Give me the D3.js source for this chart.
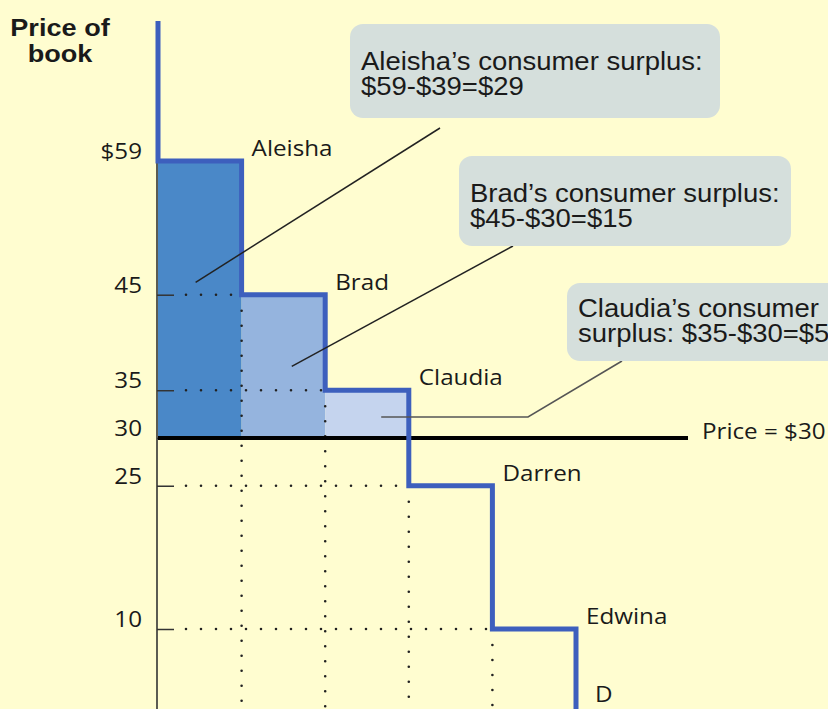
<!DOCTYPE html>
<html>
<head>
<meta charset="utf-8">
<script src="https://cdn.jsdelivr.net/npm/d3@7"></script>
<style>
  body { margin: 0; background: #fffdd0; }
  svg { display: block; }
</style>
</head>
<body>
<script>
// 数据
const buyers = ['Aleisha', 'Brad', 'Claudia', 'Darren', 'Edwina'];
const willingness = [59, 45, 35, 25, 10];
const marketPrice = 30;
const tickValues = [59, 45, 35, 30, 25, 10];
const tickLabels = ['$59', '45', '35', '30', '25', '10'];
const surplusNotes = [
  ['Aleisha\u2019s consumer surplus:', '$59-$39=$29'],
  ['Brad\u2019s consumer surplus:', '$45-$30=$15'],
  ['Claudia\u2019s consumer', 'surplus: $35-$30=$5']
];
const fills = ['#4a88c8', '#95b4de', '#c5d4ee'];

const width = 828, height = 709;
const labelFont = '"Open Sans", sans-serif';
const noteFont = '"Liberation Sans", Arial, sans-serif';

// 比例尺
const x = d3.scaleLinear().domain([0, 5]).range([158, 576]);
const y = d3.scaleLinear().domain([10, 59]).range([629, 161]);
const yTop = y.invert(21), yBottom = y.invert(height + 10);
const priceEnd = x.invert(688);

const svg = d3.select('body').append('svg')
  .attr('width', width)
  .attr('height', height);

svg.append('rect')
  .attr('width', width).attr('height', height)
  .attr('fill', '#fffdd0');

// 横向拉伸的文字
function addText(px, py, str, opt) {
  opt = opt || {};
  return svg.append('text')
    .attr('transform', `translate(${px},${py}) scale(${opt.sx || 1.1},1)`)
    .attr('font-family', opt.font || labelFont)
    .attr('font-size', opt.size || 22)
    .attr('font-weight', opt.weight || 'normal')
    .attr('text-anchor', opt.anchor || 'start')
    .attr('fill', '#1a1a1a')
    .text(str);
}

// 消费者剩余区域
const surplusIdx = willingness.map((w, i) => i).filter(i => willingness[i] > marketPrice);
svg.append('g').selectAll('rect')
  .data(surplusIdx)
  .enter()
  .append('rect')
  .attr('x', i => x(i))
  .attr('y', i => y(willingness[i]))
  .attr('width', i => x(i + 1) - x(i))
  .attr('height', i => y(marketPrice) - y(willingness[i]))
  .attr('fill', i => fills[i]);

// 点线
const dots = svg.append('g')
  .attr('stroke', '#222')
  .attr('stroke-width', 2.6)
  .attr('stroke-linecap', 'round')
  .attr('stroke-dasharray', '0 15');

dots.selectAll('.hdot')
  .data(d3.range(1, willingness.length))
  .enter()
  .append('line')
  .attr('x1', x(0) + 28)
  .attr('x2', i => x(i) - 2)
  .attr('y1', i => y(willingness[i]))
  .attr('y2', i => y(willingness[i]));

dots.selectAll('.vdot')
  .data(d3.range(1, willingness.length))
  .enter()
  .append('line')
  .attr('x1', i => x(i))
  .attr('x2', i => x(i))
  .attr('y1', i => y(willingness[i]) + 16)
  .attr('y2', height + 10);

// 坐标轴
const yAxis = d3.axisLeft(y)
  .tickValues(tickValues)
  .tickFormat((d, i) => tickLabels[i])
  .tickSize(-17)
  .tickSizeOuter(0)
  .tickPadding(14);

const axisG = svg.append('g')
  .attr('transform', `translate(${x(0) - 1},0)`)
  .call(yAxis);
axisG.select('.domain').remove();
axisG.selectAll('.tick line').attr('stroke', '#333').attr('stroke-width', 1.5);
axisG.selectAll('.tick text').remove();
axisG.append('line')
  .attr('y1', y(yTop)).attr('y2', y(yBottom))
  .attr('stroke', '#333').attr('stroke-width', 1.6);

tickValues.forEach((v, i) => {
  addText(x(0) - 16, y(v) - 2, tickLabels[i], { anchor: 'end' });
});

// 价格线
svg.append('line')
  .attr('x1', x(0)).attr('x2', x(priceEnd))
  .attr('y1', y(marketPrice)).attr('y2', y(marketPrice))
  .attr('stroke', '#000').attr('stroke-width', 4);

addText(x(priceEnd) + 14, y(marketPrice) + 1, 'Price = $' + marketPrice);

// 需求曲线（阶梯）
const pts = [[0, yTop]];
willingness.forEach((w, i) => { pts.push([i, w]); pts.push([i + 1, w]); });
pts.push([willingness.length, yBottom]);

svg.append('path')
  .datum(pts)
  .attr('fill', 'none')
  .attr('stroke', '#3d5fbd')
  .attr('stroke-width', 5)
  .attr('d', d3.line().x(d => x(d[0])).y(d => y(d[1])));

// 买家标签
buyers.forEach((b, i) => {
  addText(x(i + 1) + 10, y(willingness[i]) - 5, b);
});
addText(x(5) + 19, 702, 'D');

// 纵轴标题
addText(60, 36, 'Price of', { font: noteFont, weight: 'bold', size: 24, anchor: 'middle', sx: 1.13 });
addText(60, 62, 'book', { font: noteFont, weight: 'bold', size: 24, anchor: 'middle', sx: 1.13 });

// 注释框和引线
const boxes = [
  { bx: 350, by: 24, bw: 370, bh: 94, lx: 440, ly: 128, at: [0.45, 46.3] },
  { bx: 459, by: 156, bw: 332, bh: 90, lx: 513, ly: 246, at: [1.6, 37.5] },
  { bx: 567, by: 283, bw: 280, bh: 78, lx: 622, ly: 361, at: [2.67, 32.2], elbow: 528 }
];

boxes.forEach((b, i) => {
  const p = [[b.lx, b.ly]];
  if (b.elbow) p.push([b.elbow, y(b.at[1])]);
  p.push([x(b.at[0]), y(b.at[1])]);
  svg.append('path')
    .attr('d', d3.line()(p))
    .attr('fill', 'none')
    .attr('stroke', i === 2 ? '#555' : '#222')
    .attr('stroke-width', 1.5);

  svg.append('rect')
    .attr('x', b.bx).attr('y', b.by)
    .attr('width', b.bw).attr('height', b.bh)
    .attr('rx', 13)
    .attr('fill', '#d5dfdc');

  surplusNotes[i].forEach((line, k) => {
    addText(b.bx + 11, b.by + (i === 2 ? 34 : 46) + k * 24.5, line, { font: noteFont, size: 25, sx: 1.1 });
  });
});
</script>
</body>
</html>
